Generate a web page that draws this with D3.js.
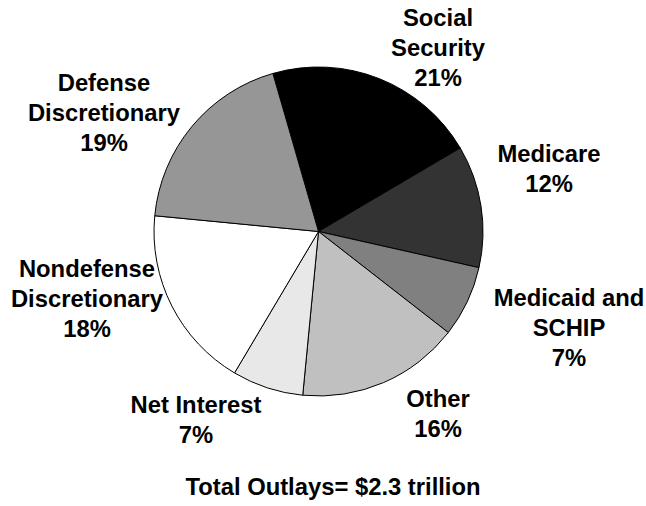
<!DOCTYPE html>
<html>
<head>
<meta charset="utf-8">
<script src="https://cdn.jsdelivr.net/npm/d3@7"></script>
<style>
  html, body { margin: 0; padding: 0; background: #ffffff; }
  svg { display: block; }
  text { font-family: "Liberation Sans", Arial, sans-serif; font-weight: bold; fill: #000; }
</style>
</head>
<body>
<svg id="chart" width="646" height="506"></svg>
<script>
// Budget categories, in clockwise order starting from Social Security
const categories = ["Social Security", "Medicare", "Medicaid and SCHIP", "Other", "Net Interest", "Nondefense Discretionary", "Defense Discretionary"];
const shares = [21, 12, 7, 16, 7, 18, 19];
const fills = ["#000000", "#333333", "#808080", "#c0c0c0", "#e8e8e8", "#ffffff", "#969696"];
// Label lines per category (name lines followed by the percentage)
const labelLines = [
  ["Social", "Security"],
  ["Medicare"],
  ["Medicaid and", "SCHIP"],
  ["Other"],
  ["Net Interest"],
  ["Nondefense", "Discretionary"],
  ["Defense", "Discretionary"]
];
// Label anchor (centre x, baseline of first line)
const labelPos = [
  [438, 26], [549, 162], [569, 306], [438, 407], [196, 413], [87, 277], [104, 91]
];
const footnote = "Total Outlays= $2.3 trillion";

const svg = d3.select("#chart");
const cx = 318.5, cy = 231.5, radius = 164.5;
const startDeg = -16.1;
const fontSize = 23.8, lineGap = 30;

const pie = d3.pie()
  .sort(null)
  .value(d => d.value)
  .startAngle(startDeg * Math.PI / 180)
  .endAngle((startDeg + 360) * Math.PI / 180);

const data = categories.map((c, i) => ({ name: c, value: shares[i], fill: fills[i] }));
const arcs = pie(data);
const arc = d3.arc().innerRadius(0).outerRadius(radius);

const g = svg.append("g").attr("transform", `translate(${cx},${cy})`);
g.selectAll("path")
  .data(arcs)
  .join("path")
  .attr("d", arc)
  .attr("fill", d => d.data.fill)
  .attr("stroke", "#000")
  .attr("stroke-width", 1)
  .attr("stroke-linejoin", "round");

// Category labels
const labels = svg.append("g").attr("font-size", fontSize).attr("text-anchor", "middle");
data.forEach((d, i) => {
  const lines = labelLines[i].concat([d.value + "%"]);
  const t = labels.append("text")
    .attr("x", labelPos[i][0])
    .attr("y", labelPos[i][1]);
  lines.forEach((ln, j) => {
    t.append("tspan")
      .attr("x", labelPos[i][0])
      .attr("dy", j === 0 ? 0 : lineGap)
      .text(ln);
  });
});

// Total outlays note
svg.append("text")
  .attr("x", 333)
  .attr("y", 495)
  .attr("text-anchor", "middle")
  .attr("font-size", fontSize)
  .text(footnote);
</script>
</body>
</html>
